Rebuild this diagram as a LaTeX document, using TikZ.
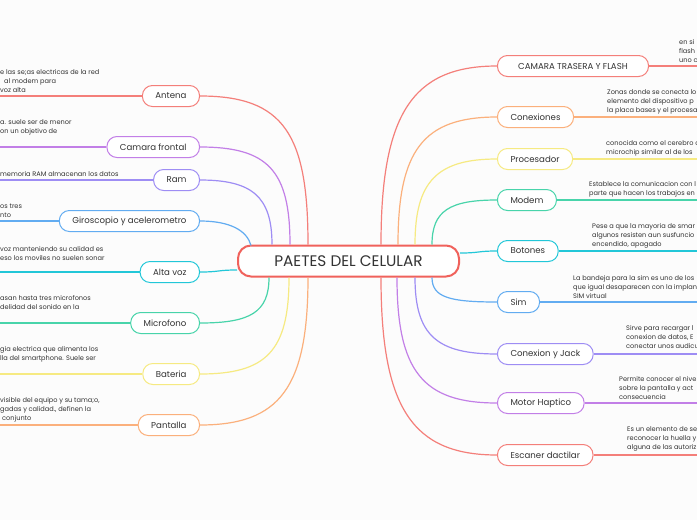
\documentclass[tikz,border=0pt]{standalone}
\usepackage{fontspec}
\setmainfont{Poppins}
\definecolor{mmbg}{HTML}{FCFCFC}
\definecolor{mmtext}{HTML}{333333}
\definecolor{mmroot}{HTML}{F0625C}
\definecolor{mmred}{HTML}{F47F7A}
\definecolor{mmorange}{HTML}{FBB07C}
\definecolor{mmyellow}{HTML}{F6EA82}
\definecolor{mmgreen}{HTML}{48D4AA}
\definecolor{mmcyan}{HTML}{22C7D8}
\definecolor{mmblue}{HTML}{62ACF1}
\definecolor{mmviolet}{HTML}{9E8DF4}
\definecolor{mmpurple}{HTML}{C27FE7}

\begin{document}
\begin{tikzpicture}[x=1pt,y=-1pt,
  root/.style={draw=mmroot,line width=2pt,rounded corners=13pt,fill=white,
    minimum width=221pt,minimum height=31pt,text=mmtext,
    font=\fontsize{15.3}{18}\selectfont},
  branch/.style={draw=#1,line width=1pt,rounded corners=10pt,fill=white,
    minimum height=21pt,inner xsep=13pt,text=mmtext,
    font=\fontsize{8.6}{10}\selectfont},
  note/.style={anchor=south west,inner sep=0pt,align=left,text=mmtext,
    font=\fontsize{6.6}{9}\selectfont},
  link/.style={draw=#1,line width=1.2pt}]
\useasboundingbox (0,0) rectangle (697,520);
\fill[mmbg] (0,0) rectangle (697,520);

\node[root] (celular) at (348.5,261) {PAETES DEL CELULAR};

\node[branch=mmred,anchor=east] (antena) at (200,96) {Antena};
\node[branch=mmpurple,anchor=east] (frontal) at (200,147) {Camara frontal};
\node[branch=mmviolet,anchor=east] (ram) at (200,180) {Ram};
\node[branch=mmblue,anchor=east] (giro) at (200,221) {Giroscopio y acelerometro};
\node[branch=mmcyan,anchor=east] (altavoz) at (200,272) {Alta voz};
\node[branch=mmgreen,anchor=east] (micro) at (200,323) {Microfono};
\node[branch=mmyellow,anchor=east] (bateria) at (200,374) {Bateria};
\node[branch=mmorange,anchor=east] (pantalla) at (200,425) {Pantalla};

\node[branch=mmred,anchor=west,minimum width=151pt] (trasera) at (497,66) {CAMARA TRASERA Y FLASH};
\node[branch=mmorange,anchor=west] (conexiones) at (497,117) {Conexiones};
\node[branch=mmyellow,anchor=west] (procesador) at (497,159) {Procesador};
\node[branch=mmgreen,anchor=west] (modem) at (497,200) {Modem};
\node[branch=mmcyan,anchor=west] (botones) at (497,251) {Botones};
\node[branch=mmblue,anchor=west] (sim) at (497,302) {Sim};
\node[branch=mmviolet,anchor=west] (jack) at (497,354) {Conexion y Jack};
\node[branch=mmpurple,anchor=west] (haptico) at (497,403) {Motor Haptico};
\node[branch=mmred,anchor=west] (escaner) at (497,455) {Escaner dactilar};

\coordinate (antenaL) at (0,96);
\coordinate (frontalL) at (0,147);
\coordinate (ramL) at (0,180);
\coordinate (giroL) at (0,221);
\coordinate (altavozL) at (0,272);
\coordinate (microL) at (0,323);
\coordinate (bateriaL) at (0,374);
\coordinate (pantallaL) at (0,425);
\coordinate (traseraR) at (697,66);
\coordinate (conexionesR) at (697,117);
\coordinate (procesadorR) at (697,159);
\coordinate (modemR) at (697,200);
\coordinate (botonesR) at (697,251);
\coordinate (simR) at (697,302);
\coordinate (jackR) at (697,354);
\coordinate (hapticoR) at (697,403);
\coordinate (escanerR) at (697,455);

\draw[link=mmred] ([xshift=-40.5pt]celular.north) .. controls +(0,-110) and +(84,0) .. (antena.east);
\draw[link=mmpurple] ([xshift=-58.5pt]celular.north) .. controls +(0,-74) and +(68,0) .. (frontal.east);
\draw[link=mmviolet] ([xshift=-76.5pt]celular.north) .. controls +(0,-48) and +(52,0) .. (ram.east);
\draw[link=mmblue] ([xshift=-97.5pt,yshift=-1pt]celular.north) .. controls +(-4,-15) and +(30,0) .. (giro.east);
\draw[link=mmcyan] ([yshift=-9pt]celular.west) .. controls +(-20,0) and +(20,0) .. (altavoz.east);
\draw[link=mmgreen] ([xshift=-79.5pt]celular.south) .. controls +(0,35) and +(50,0) .. (micro.east);
\draw[link=mmyellow] ([xshift=-59.5pt]celular.south) .. controls +(0,74) and +(66,0) .. (bateria.east);
\draw[link=mmorange] ([xshift=-40.5pt]celular.south) .. controls +(0,110) and +(80,0) .. (pantalla.east);

\draw[link=mmred] ([xshift=32.5pt]celular.north) .. controls +(0,-130) and +(-85,0) .. (trasera.west);
\draw[link=mmorange] ([xshift=49.5pt]celular.north) .. controls +(0,-94) and +(-74,0) .. (conexiones.west);
\draw[link=mmyellow] ([xshift=66.5pt]celular.north) .. controls +(0,-63) and +(-60,0) .. (procesador.west);
\draw[link=mmgreen] ([xshift=83.5pt]celular.north) .. controls +(0,-34) and +(-47,0) .. (modem.west);
\draw[link=mmcyan] ([yshift=8pt]celular.east) .. controls +(20,0) and +(-20,0) .. (botones.west);
\draw[link=mmblue] ([xshift=83.5pt]celular.south) .. controls +(0,20) and +(-47,0) .. (sim.west);
\draw[link=mmviolet] ([xshift=66.5pt]celular.south) .. controls +(0,58) and +(-60,0) .. (jack.west);
\draw[link=mmpurple] ([xshift=48.5pt]celular.south) .. controls +(0,94) and +(-74,0) .. (haptico.west);
\draw[link=mmred] ([xshift=32.5pt]celular.south) .. controls +(0,130) and +(-85,0) .. (escaner.west);

\draw[link=mmred] (antena.west) -- (antenaL);
\draw[link=mmpurple] (frontal.west) -- (frontalL);
\draw[link=mmviolet] (ram.west) -- (ramL);
\draw[link=mmblue] (giro.west) -- (giroL);
\draw[link=mmcyan] (altavoz.west) -- (altavozL);
\draw[link=mmgreen] (micro.west) -- (microL);
\draw[link=mmyellow] (bateria.west) -- (bateriaL);
\draw[link=mmorange] (pantalla.west) -- (pantallaL);
\draw[link=mmred] (trasera.east) -- (traseraR);
\draw[link=mmorange] (conexiones.east) -- (conexionesR);
\draw[link=mmyellow] (procesador.east) -- (procesadorR);
\draw[link=mmgreen] (modem.east) -- (modemR);
\draw[link=mmcyan] (botones.east) -- (botonesR);
\draw[link=mmblue] (sim.east) -- (simR);
\draw[link=mmviolet] (jack.east) -- (jackR);
\draw[link=mmpurple] (haptico.east) -- (hapticoR);
\draw[link=mmred] (escaner.east) -- (escanerR);

\node[note] (antenaT) at (0,93) {e las se;as electricas de la red\\\hspace*{4pt}al modem para\\voz alta};
\node[note] (frontalT) at (0,135) {a. suele ser de menor\\on un objetivo de};
\node[note] (ramT) at (0,177) {memoria RAM almacenan los datos};
\node[note] (giroT) at (0,218) {os tres\\nto};
\node[note] (altavozT) at (0,261) {voz manteniendo su calidad es\\eso los moviles no suelen sonar};
\node[note] (microT) at (0,310) {asan hasta tres microfonos\\delidad del sonido en la};
\node[note] (bateriaT) at (0,362) {gia electrica que alimenta los\\lla del smartphone. Suele ser};
\node[note] (pantallaT) at (0,422) {visible del equipo y su tama;o,\\gadas y calidad., definen la\\\hspace*{2pt}conjunto};

\node[note] (traseraT) at (679,63) {en si\\flash\\uno c};
\node[note] (conexionesT) at (607,114) {Zonas donde se conecta lo\\elemento del dispositivo p\\la placa bases y el procesa};
\node[note] (procesadorT) at (606,156) {conocida como el cerebro d\\microchip similar al de los};
\node[note] (modemT) at (589,197) {Establece la comunicacion con l\\parte que hacen los trabajos en};
\node[note] (botonesT) at (592,248) {Pese a que la mayoria de smar\\algunos resisten aun susfuncio\\encendido, apagado};
\node[note] (simT) at (573,299) {La bandeja para la sim es uno de los\\que igual desaparecen con la implan\\SIM virtual};
\node[note] (jackT) at (626,349) {Sirve para recargar l\\conexion de datos, E\\conectar unos audicu};
\node[note] (hapticoT) at (619,400) {Permite conocer el nive\\sobre la pantalla y act\\consecuencia};
\node[note] (escanerT) at (627,451) {Es un elemento de se\\reconocer la huella y\\alguna de las autoriz};
\end{tikzpicture}
\end{document}
